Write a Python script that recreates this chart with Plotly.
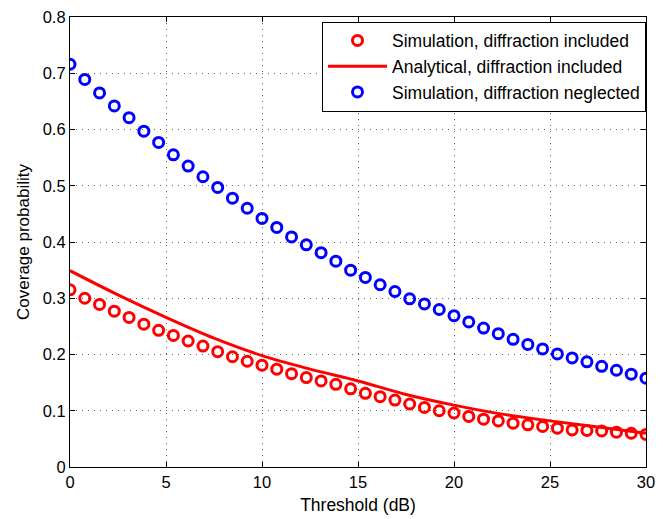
import numpy as np
import plotly.graph_objects as go

# Threshold values (dB) for simulation markers: 40 points from 0 to 30
threshold_sim = list(np.linspace(0, 30, 40))

sim_included = [0.315, 0.300, 0.289, 0.277, 0.266, 0.254, 0.243, 0.234, 0.224, 0.215,
                0.205, 0.196, 0.188, 0.181, 0.174, 0.166, 0.159, 0.153, 0.147, 0.139,
                0.131, 0.125, 0.119, 0.112, 0.106, 0.100, 0.096, 0.090, 0.085, 0.082,
                0.078, 0.075, 0.072, 0.069, 0.066, 0.065, 0.064, 0.062, 0.060, 0.058]

sim_neglected = [0.716, 0.689, 0.665, 0.642, 0.621, 0.597, 0.577, 0.555, 0.535, 0.516,
                 0.497, 0.478, 0.460, 0.442, 0.426, 0.409, 0.395, 0.381, 0.366, 0.350,
                 0.337, 0.324, 0.312, 0.299, 0.290, 0.280, 0.269, 0.258, 0.247, 0.237,
                 0.227, 0.218, 0.210, 0.201, 0.194, 0.187, 0.179, 0.172, 0.165, 0.158]

threshold_ana = [0, 2.5, 5, 7.5, 10, 12.5, 15, 17.5, 20, 22.5, 25, 27.5, 30]
analytical_included = [0.349, 0.306, 0.266, 0.229, 0.198, 0.174, 0.153, 0.129,
                       0.110, 0.094, 0.082, 0.071, 0.060]

x_ticks = [0, 5, 10, 15, 20, 25, 30]
y_ticks = [0, 0.1, 0.2, 0.3, 0.4, 0.5, 0.6, 0.7, 0.8]
y_ticklabels = ["0", "0.1", "0.2", "0.3", "0.4", "0.5", "0.6", "0.7", "0.8"]

FONT = "Liberation Sans, Arial, Helvetica, sans-serif"

fig = go.Figure()
fig.add_trace(go.Scatter(
    x=threshold_sim, y=sim_included, mode="markers",
    name="Simulation, diffraction included",
    marker=dict(symbol="circle-open", size=10, color="#ff0000",
                line=dict(width=3, color="#ff0000")),
))
fig.add_trace(go.Scatter(
    x=threshold_ana, y=analytical_included, mode="lines",
    name="Analytical, diffraction included",
    line=dict(color="#ff0000", width=3, shape="spline"),
))
fig.add_trace(go.Scatter(
    x=threshold_sim, y=sim_neglected, mode="markers",
    name="Simulation, diffraction neglected",
    marker=dict(symbol="circle-open", size=10, color="#0000ff",
                line=dict(width=3, color="#0000ff")),
))

axis_common = dict(
    showline=True, linecolor="black", linewidth=1.2, mirror="allticks",
    ticks="inside", ticklen=5, tickcolor="black", tickwidth=1,
    showgrid=True, gridcolor="#666666", griddash="1px,5px", gridwidth=1,
    zeroline=False, tickfont=dict(family=FONT, size=16.5, color="black"),
    ticklabeloverflow="allow",
)

fig.update_xaxes(range=[0, 30], tickvals=x_ticks,
                 title=dict(text="Threshold (dB)", font=dict(family=FONT, size=17.5, color="black"),
                            standoff=8),
                 **axis_common)
fig.update_yaxes(range=[0, 0.8], tickvals=y_ticks, ticktext=y_ticklabels,
                 title=dict(text="Coverage probability", font=dict(family=FONT, size=17, color="black"),
                            standoff=8),
                 **axis_common)

fig.update_layout(
    width=663, height=519,
    margin=dict(l=70, r=8, t=13, b=52),
    plot_bgcolor="white", paper_bgcolor="white",
    font=dict(family=FONT, size=16, color="black"),
    showlegend=True,
    legend=dict(x=1.0, y=0.99, xanchor="right", yanchor="top",
                bgcolor="white", bordercolor="black", borderwidth=1,
                font=dict(family=FONT, size=17.5, color="black"),
                itemwidth=59, tracegroupgap=0),
)

fig.write_html("out.html")
